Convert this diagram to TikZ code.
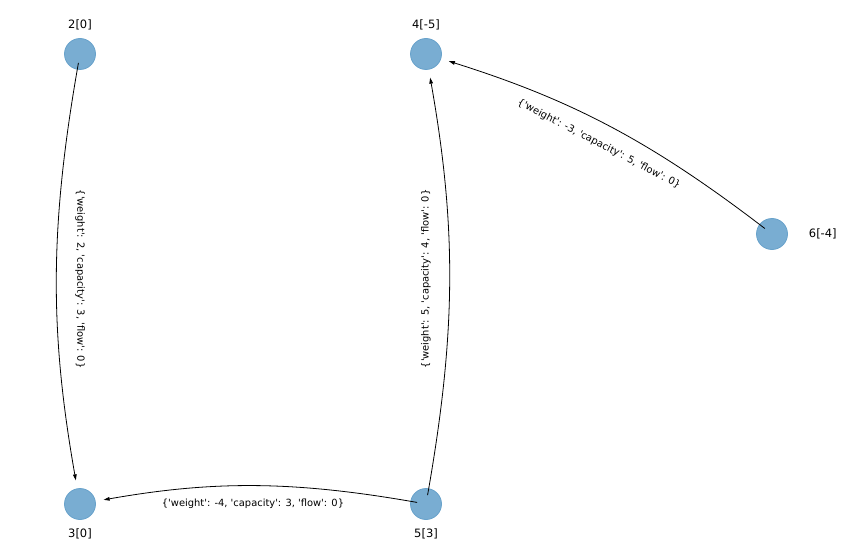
\documentclass[tikz,border=0pt]{standalone}
\usepackage{fontspec}
\newfontfamily\dejavu{DejaVu Sans}
\usetikzlibrary{arrows.meta}
\definecolor{nodeblue}{RGB}{121,173,210}
\definecolor{nodeedge}{RGB}{104,162,203}

\begin{document}
\begin{tikzpicture}[x=1pt,y=1pt,
	vertex/.style={circle,fill=nodeblue,draw=nodeedge,line width=0.8pt,minimum size=31pt,inner sep=0pt},
	tag/.style={font=\dejavu\fontsize{11.5}{13}\selectfont},
	link/.style={-{Triangle[length=6pt,width=3.6pt]},line width=0.8pt,shorten <=9pt,shorten >=24pt},
	info/.style={font=\dejavu\fontsize{9.9}{12}\selectfont,sloped,inner sep=0pt}]
	\useasboundingbox (0,0) rectangle (851,558);
	\node[vertex,label={[tag,label distance=4.5pt]above:2[0]}] (n2) at (80,504) {};
	\node[vertex,label={[tag,label distance=4.5pt]above:4[-5]}] (n4) at (426,504) {};
	\node[vertex,label={[tag,label distance=17.5pt]right:6[-4]}] (n6) at (772,324) {};
	\node[vertex,label={[tag,label distance=5.5pt]below:3[0]}] (n3) at (80,54) {};
	\node[vertex,label={[tag,label distance=5.5pt]below:5[3]}] (n5) at (426,54) {};
	\draw[link] (n2.center) to[bend right=10] (n3.center);
	\draw[link] (n5.center) to[bend right=10] (n4.center);
	\draw[link] (n6.center) to[bend right=10] (n4.center);
	\draw[link] (n5.center) to[bend right=10] (n3.center);
	\path (n2.center) -- node[info] (w23) {\{'weight': 2, 'capacity': 3, 'flow': 0\}} (n3.center);
	\path (n5.center) -- node[info] (w54) {\{'weight': 5, 'capacity': 4, 'flow': 0\}} (n4.center);
	\path (n6.center) -- node[info] (w64) {\{'weight': -3, 'capacity': 5, 'flow': 0\}} (n4.center);
	\path (n5.center) -- node[info] (w53) {\{'weight': -4, 'capacity': 3, 'flow': 0\}} (n3.center);
\end{tikzpicture}
\end{document}
